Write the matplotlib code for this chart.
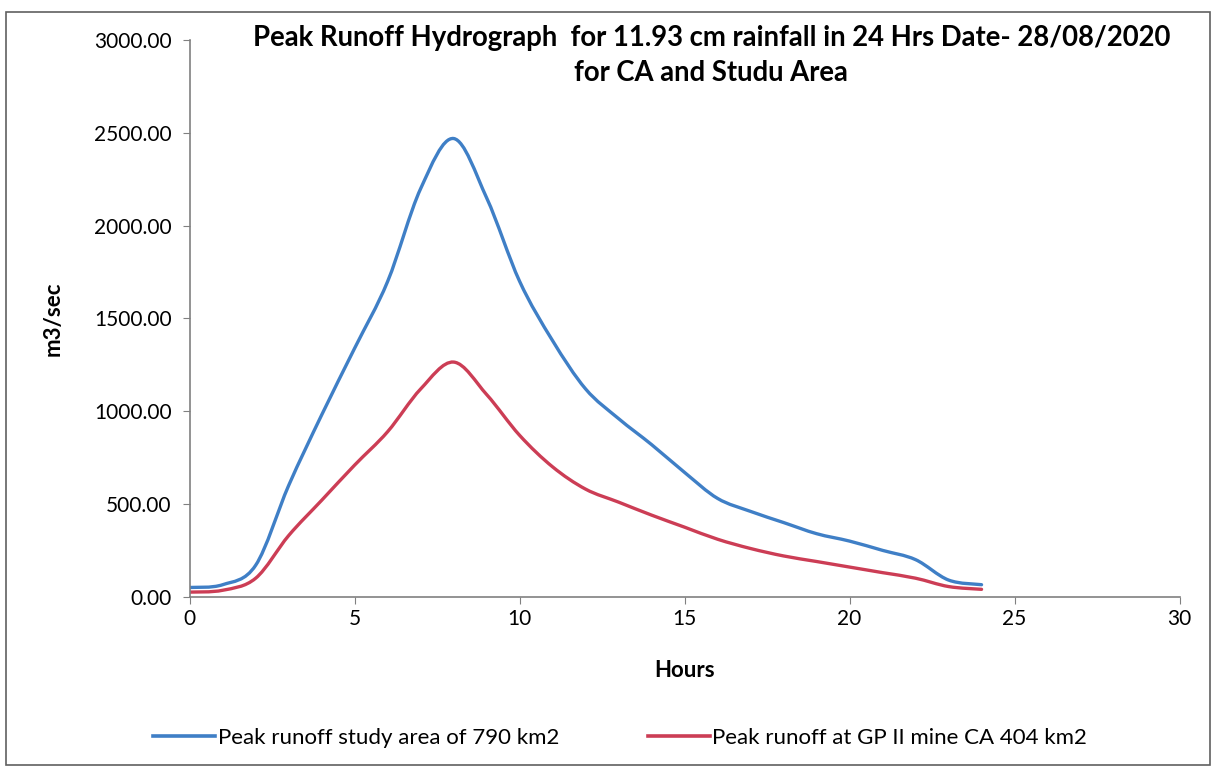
import numpy as np
import matplotlib.pyplot as plt
from matplotlib.path import Path
from matplotlib.patches import PathPatch, Rectangle
from matplotlib.lines import Line2D

plt.rcParams['font.family'] = ['Lato', 'DejaVu Sans']

hours = list(range(0, 25))
study_area = [50, 65, 170, 600, 980, 1340, 1700, 2200, 2470, 2150, 1700, 1380, 1120,
              960, 820, 670, 530, 460, 400, 340, 300, 250, 200, 90, 65]
gp_mine = [25, 35, 100, 330, 520, 710, 890, 1120, 1265, 1090, 870, 700, 580,
           510, 440, 375, 310, 260, 220, 190, 160, 130, 100, 55, 40]

label_study = 'Peak runoff study area of 790 km2'
label_mine = 'Peak runoff at GP II mine CA 404 km2'
blue = '#3f7fc6'
red = '#cc3d55'


def smooth_path(x, y, t=1 / 6):
    # Excel style smoothed line: cubic bezier between the points
    x = np.asarray(x, float)
    y = np.asarray(y, float)
    verts = [(x[0], y[0])]
    codes = [Path.MOVETO]
    n = len(x)
    for i in range(n - 1):
        x0, y0 = (x[i - 1], y[i - 1]) if i > 0 else (x[i], y[i])
        x3, y3 = (x[i + 2], y[i + 2]) if i + 2 < n else (x[i + 1], y[i + 1])
        c1 = (x[i] + t * (x[i + 1] - x0), y[i] + t * (y[i + 1] - y0))
        c2 = (x[i + 1] - t * (x3 - x[i]), y[i + 1] - t * (y3 - y[i]))
        verts += [c1, c2, (x[i + 1], y[i + 1])]
        codes += [Path.CURVE4] * 3
    return Path(verts, codes)


fig = plt.figure(figsize=(12.16, 7.73), dpi=100)
ax = fig.add_axes([0.156, 0.228, 0.814, 0.72])

for yv, col in [(study_area, blue), (gp_mine, red)]:
    ax.add_patch(PathPatch(smooth_path(hours, yv), facecolor='none', edgecolor=col,
                           lw=2.4, capstyle='round', joinstyle='round'))

ax.set_xlim(0, 30)
ax.set_ylim(0, 3000)
ax.set_xticks(range(0, 31, 5))
ax.set_yticks(range(0, 3001, 500))
ax.set_yticklabels(['%.2f' % v for v in range(0, 3001, 500)])
for s in ['top', 'right']:
    ax.spines[s].set_visible(False)
for s in ['left', 'bottom']:
    ax.spines[s].set_color('#808080')
    ax.spines[s].set_linewidth(1.2)
ax.tick_params(direction='out', length=5, color='#808080', labelsize=15, pad=8)
ax.tick_params(axis='x', pad=4)

ax.set_xlabel('Hours', fontsize=16, fontweight='bold', labelpad=22)
ax.set_ylabel('m3/sec', fontsize=16, fontweight='bold', labelpad=22)

ax.text(0.527, 1.028, 'Peak Runoff Hydrograph  for 11.93 cm rainfall in 24 Hrs Date- 28/08/2020\nfor CA and Studu Area',
        transform=ax.transAxes, ha='center', va='top', fontsize=19.8, fontweight='bold',
        linespacing=1.45)

handles = [Line2D([], [], color=blue, lw=2.6), Line2D([], [], color=red, lw=2.6)]
fig.legend(handles, [label_study, label_mine], loc='center', bbox_to_anchor=(0.51, 0.045),
           ncol=2, frameon=False, fontsize=16, handlelength=2.8, handletextpad=0.1,
           columnspacing=4.0)

fig.patches.append(Rectangle((0.005, 0.01), 0.99, 0.975, transform=fig.transFigure,
                             fill=False, edgecolor='#606060', lw=1.2))

fig.savefig('out.png', dpi=100)
